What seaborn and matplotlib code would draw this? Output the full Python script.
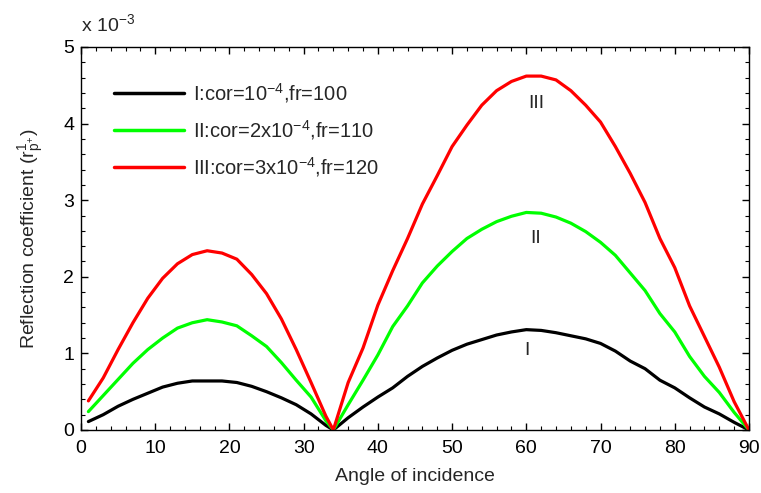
import numpy as np
import pandas as pd
import matplotlib
matplotlib.use("Agg")
import matplotlib.pyplot as plt
import seaborn as sns
from matplotlib.ticker import MultipleLocator

angles = [1, 3, 5, 7, 9, 11, 13, 15, 17, 19, 21, 23, 25, 27, 29, 31, 33, 34,
          36, 38, 40, 42, 44, 46, 48, 50, 52, 54, 56, 58, 60, 62, 64, 66, 68,
          70, 72, 74, 76, 78, 80, 82, 84, 86, 88, 90]

curve_I = [0.11, 0.20, 0.31, 0.40, 0.48, 0.56, 0.61, 0.64, 0.64, 0.64, 0.62, 0.57,
           0.50, 0.42, 0.33, 0.21, 0.06, 0.0,
           0.16, 0.30, 0.43, 0.55, 0.70, 0.83, 0.94, 1.04, 1.12, 1.18, 1.24, 1.28,
           1.31, 1.30, 1.27, 1.23, 1.19, 1.13, 1.03, 0.90, 0.80, 0.65, 0.55, 0.42,
           0.30, 0.21, 0.10, 0.0]

curve_II = [0.24, 0.45, 0.66, 0.87, 1.05, 1.20, 1.33, 1.40, 1.44, 1.41, 1.36, 1.23,
            1.09, 0.88, 0.65, 0.43, 0.12, 0.0,
            0.33, 0.65, 0.98, 1.35, 1.62, 1.92, 2.14, 2.33, 2.50, 2.62, 2.72, 2.79,
            2.84, 2.83, 2.78, 2.70, 2.59, 2.45, 2.28, 2.05, 1.82, 1.52, 1.28, 0.96,
            0.70, 0.49, 0.23, 0.0]

curve_III = [0.38, 0.68, 1.05, 1.40, 1.72, 1.98, 2.17, 2.29, 2.34, 2.31, 2.23, 2.03,
             1.78, 1.45, 1.05, 0.62, 0.18, 0.0,
             0.62, 1.07, 1.63, 2.08, 2.50, 2.95, 3.32, 3.70, 3.98, 4.24, 4.43, 4.55,
             4.62, 4.62, 4.57, 4.43, 4.24, 4.02, 3.70, 3.35, 2.97, 2.50, 2.12, 1.62,
             1.22, 0.82, 0.37, 0.0]

labels = [r"I:cor=10$^{-4}$,fr=100",
          r"II:cor=2x10$^{-4}$,fr=110",
          r"III:cor=3x10$^{-4}$,fr=120"]
colors = ["#000000", "#00FF00", "#FF0000"]
curve_tags = ["I", "II", "III"]
tag_pos = [(60.1, 1.04e-3), (61.3, 2.50e-3), (61.4, 4.26e-3)]

frames = []
for lab, vals in zip(labels, [curve_I, curve_II, curve_III]):
    frames.append(pd.DataFrame({"angle": angles,
                                "value": np.array(vals) * 1e-3,
                                "series": lab}))
df = pd.concat(frames, ignore_index=True)

sns.set_style("ticks")
plt.rcParams["font.family"] = ["Liberation Sans", "DejaVu Sans"]
plt.rcParams["mathtext.fontset"] = "custom"
plt.rcParams["mathtext.rm"] = "Liberation Sans"
plt.rcParams["mathtext.it"] = "Liberation Sans"

FS = 14

fig = plt.figure(figsize=(7.61, 4.93), dpi=100)
ax = fig.add_axes([0.1064, 0.1278, 0.8778, 0.7769])

sns.lineplot(data=df, x="angle", y="value", hue="series", palette=colors,
             linewidth=2.3, ax=ax, legend=True)

ax.set_xlim(0, 90)
ax.set_ylim(0, 5e-3)
ax.xaxis.set_major_locator(MultipleLocator(10))
ax.xaxis.set_minor_locator(MultipleLocator(2))
ax.yaxis.set_minor_locator(MultipleLocator(0.2e-3))
ax.set_yticks(np.arange(0, 6) * 1e-3)
ax.set_yticklabels([str(i) for i in range(6)])
ax.tick_params(which="both", direction="in", top=True, right=True,
               labelsize=FS, colors="black")
ax.tick_params(axis="x", which="major", pad=7)
ax.tick_params(axis="y", which="major", pad=5)
ax.tick_params(which="major", length=5, width=1)
ax.tick_params(which="minor", length=3, width=0.8)
for s in ax.spines.values():
    s.set_color("black")
    s.set_linewidth(1)

ax.set_xlabel("Angle of incidence", fontsize=FS, labelpad=8)
ax.set_ylabel(r"Reflection coefficient (r$^{1}_{p^{+}}$)", fontsize=FS)
ax.yaxis.set_label_coords(-0.052, 0.5)
ax.text(0.0, 1.03, r"x 10$^{-3}$", transform=ax.transAxes, fontsize=FS,
        ha="left", va="bottom")

for tag, (tx, ty) in zip(curve_tags, tag_pos):
    ax.text(tx, ty, tag, fontsize=FS, ha="center", va="center")

leg = ax.legend(loc="upper left", bbox_to_anchor=(0.038, 0.932), frameon=False,
                fontsize=14.5, handlelength=3.45, labelspacing=0.65,
                handletextpad=0.45, borderaxespad=0)
for line in leg.get_lines():
    line.set_linewidth(2.5)

fig.savefig("out.png", dpi=100)
